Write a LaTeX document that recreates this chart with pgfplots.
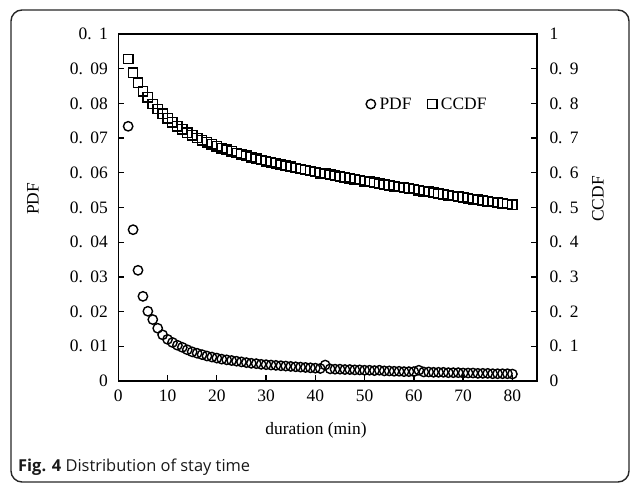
\documentclass[border=0pt]{standalone}
\usepackage{fontspec}
\setmainfont{Liberation Serif}
\newfontfamily\capfont{Open Sans}
\usepackage{pgfplots}
\usepackage{pgfplotstable}
\pgfplotsset{compat=1.18}

% tick label like "0. 05"
\newcommand{\tl}[1]{0.\hspace{0.42em}#1}

\pgfplotstableread{
x pdf ccdf
2 0.0734 0.928
3 0.0436 0.889
4 0.0319 0.860
5 0.0244 0.835
6 0.0201 0.817
7 0.0177 0.798
8 0.0152 0.784
9 0.0133 0.770
10 0.0120 0.757
11 0.0111 0.746
12 0.0103 0.734
13 0.0097 0.725
14 0.0090 0.715
15 0.0084 0.708
16 0.0080 0.700
17 0.0076 0.694
18 0.0072 0.688
19 0.0069 0.682
20 0.0066 0.676
21 0.0063 0.671
22 0.0061 0.666
23 0.0059 0.662
24 0.0057 0.657
25 0.0055 0.653
26 0.0053 0.649
27 0.0051 0.645
28 0.0050 0.641
29 0.0048 0.637
30 0.0047 0.633
31 0.0046 0.630
32 0.0045 0.627
33 0.0044 0.623
34 0.0043 0.620
35 0.0042 0.617
36 0.0041 0.614
37 0.0040 0.611
38 0.0039 0.608
39 0.0038 0.605
40 0.0037 0.602
41 0.0036 0.599
42 0.0046 0.597
43 0.0035 0.594
44 0.0034 0.592
45 0.0034 0.589
46 0.0033 0.587
47 0.0033 0.584
48 0.0032 0.581
49 0.0032 0.579
50 0.0031 0.576
51 0.0031 0.574
52 0.0030 0.571
53 0.0031 0.569
54 0.0029 0.566
55 0.0029 0.564
56 0.0028 0.561
57 0.0028 0.559
58 0.0027 0.557
59 0.0027 0.555
60 0.0027 0.553
61 0.0031 0.550
62 0.0026 0.547
63 0.0026 0.545
64 0.0025 0.543
65 0.0025 0.540
66 0.0025 0.538
67 0.0024 0.535
68 0.0024 0.533
69 0.0024 0.531
70 0.0023 0.529
71 0.0023 0.527
72 0.0023 0.524
73 0.0022 0.522
74 0.0022 0.520
75 0.0022 0.518
76 0.0021 0.516
77 0.0021 0.514
78 0.0021 0.512
79 0.0021 0.510
80 0.0020 0.508
}\staydata

\pgfplotsset{
  stayaxis/.style={
    at={(118.3bp,103bp)}, anchor=south west,
    scale only axis, width=418.7bp, height=347bp,
    xmin=0, xmax=85,
    tick align=inside,
    major tick length=6bp,
    axis line style={line width=1.3bp},
    tick style={line width=1.3bp, black},
    tick label style={font=\fontsize{17.5}{17.5}\selectfont},
    clip=false,
  },
  pdfmark/.style={only marks, mark=o, mark size=4.7bp,
    mark options={line width=1.4bp, fill=white, draw=black}},
  ccdfmark/.style={only marks, mark=square, mark size=4.7bp,
    mark options={line width=1.4bp, fill=white, draw=black}},
}

\begin{document}
\begin{tikzpicture}[x=1bp,y=1bp]
\useasboundingbox (0,0) rectangle (630,484);
\draw[black!85, line width=1.4bp, rounded corners=11bp] (11,2) rectangle (629,474);

% left axis: PDF
\begin{axis}[
  stayaxis,
  ymin=0, ymax=0.1,
  xtick={0,10,20,30,40,50,60,70,80},
  xticklabels={0,10,20,30,40,50,60,70,80},
  xtick pos=bottom,
  xticklabel style={yshift=-5bp},
  ytick={0,0.01,0.02,0.03,0.04,0.05,0.06,0.07,0.08,0.09,0.1},
  yticklabels={0,\tl{01},\tl{02},\tl{03},\tl{04},\tl{05},\tl{06},\tl{07},\tl{08},\tl{09},\tl{1}},
  ytick pos=left,
  yticklabel style={xshift=-7bp},
]
\addplot[pdfmark] table[x=x, y=pdf] {\staydata};
\end{axis}

% right axis: CCDF
\begin{axis}[
  stayaxis,
  axis x line=none,
  axis y line*=right,
  ymin=0, ymax=1,
  ytick={0,0.1,0.2,0.3,0.4,0.5,0.6,0.7,0.8,0.9,1},
  yticklabels={0,\tl{1},\tl{2},\tl{3},\tl{4},\tl{5},\tl{6},\tl{7},\tl{8},\tl{9},1},
  yticklabel style={xshift=9bp},
  legend style={at={(0.738,0.798)}, anchor=center, draw=none, fill=none,
    font=\fontsize{17.5}{17.5}\selectfont, column sep=2bp,
    /tikz/every even column/.append style={column sep=14bp}},
  legend columns=2,
  legend cell align=left,
]
\addlegendimage{pdfmark}
\addlegendentry{PDF}
\addplot[ccdfmark] table[x=x, y=ccdf] {\staydata};
\addlegendentry{CCDF}
\end{axis}

\node[font=\fontsize{17.5}{17.5}\selectfont] at (316,54) {duration (min)};
\node[font=\fontsize{17.5}{17.5}\selectfont, rotate=90] at (33,285) {PDF};
\node[font=\fontsize{17.5}{17.5}\selectfont, rotate=90] at (598,285) {CCDF};
\node[anchor=west, font=\capfont\fontsize{16.5}{16.5}\selectfont, text=black!90, inner sep=0pt]
  at (18,17) {\textbf{Fig. 4} Distribution of stay time};
\end{tikzpicture}
\end{document}
